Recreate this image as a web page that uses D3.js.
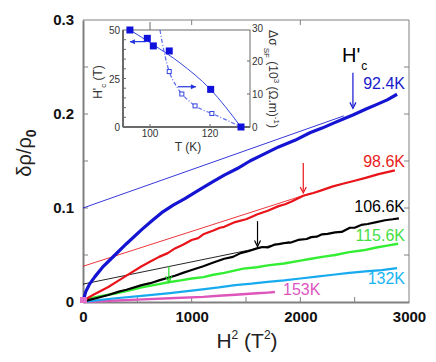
<!DOCTYPE html>
<html>
<head>
<meta charset="utf-8">
<script src="https://cdn.jsdelivr.net/npm/d3@7"></script>
<style>
body { margin: 0; background: #fff; }
text { font-family: "Liberation Sans", Arial, sans-serif; }
</style>
</head>
<body>
<div id="chart"></div>
<script>
var width = 436;
var height = 362;

// main curves: H^2 (T^2) and delta rho / rho0
var h2_924 = [0, 25, 60, 110, 180, 294, 400, 540, 640, 724, 830, 938, 1050, 1196, 1300, 1420, 1536, 1660, 1800, 1950, 2088, 2200, 2300, 2400, 2484, 2600, 2700, 2800, 2890];
var v_924  = [0, 0.011, 0.019, 0.027, 0.037, 0.050, 0.062, 0.077, 0.087, 0.095, 0.103, 0.110, 0.118, 0.128, 0.135, 0.142, 0.150, 0.157, 0.165, 0.172, 0.180, 0.185, 0.190, 0.195, 0.199, 0.205, 0.210, 0.215, 0.221];
var h2_986 = [0, 40, 100, 233, 330, 400, 540, 620, 700, 780, 846, 920, 1000, 1060, 1107, 1200, 1260, 1300, 1400, 1500, 1560, 1600, 1700, 1800, 1860, 1920, 2027, 2120, 2200, 2300, 2400, 2500, 2600, 2720, 2870];
var v_986  = [0, 0.004, 0.008, 0.016, 0.023, 0.028, 0.038, 0.043, 0.048, 0.052, 0.057, 0.061, 0.066, 0.068, 0.072, 0.076, 0.079, 0.080, 0.085, 0.088, 0.091, 0.093, 0.097, 0.102, 0.104, 0.107, 0.113, 0.116, 0.119, 0.123, 0.126, 0.129, 0.132, 0.136, 0.140];
var h2_1066 = [0, 50, 120, 233, 330, 400, 540, 620, 700, 846, 920, 1000, 1107, 1200, 1300, 1380, 1450, 1520, 1600, 1650, 1700, 1760, 1800, 1870, 1920, 1980, 2058, 2100, 2150, 2200, 2250, 2320, 2380, 2456, 2500, 2560, 2620, 2700, 2780, 2850, 2907];
var v_1066  = [0, 0.002, 0.004, 0.0075, 0.011, 0.013, 0.018, 0.020, 0.023, 0.028, 0.031, 0.034, 0.038, 0.042, 0.046, 0.048, 0.052, 0.054, 0.057, 0.0585, 0.058, 0.061, 0.0615, 0.063, 0.0635, 0.066, 0.067, 0.069, 0.0695, 0.072, 0.0725, 0.074, 0.0745, 0.079, 0.079, 0.082, 0.083, 0.085, 0.087, 0.088, 0.089];
var h2_1156 = [0, 30, 80, 150, 294, 400, 540, 700, 785, 900, 1000, 1107, 1200, 1300, 1475, 1600, 1700, 1850, 2000, 2100, 2200, 2320, 2450, 2580, 2700, 2800, 2900];
var v_1156  = [0, 0.002, 0.004, 0.006, 0.009, 0.0115, 0.0155, 0.019, 0.021, 0.023, 0.025, 0.0265, 0.029, 0.031, 0.0355, 0.037, 0.039, 0.041, 0.044, 0.046, 0.048, 0.050, 0.053, 0.055, 0.058, 0.060, 0.062];
var h2_132 = [0, 100, 300, 540, 800, 1100, 1250, 1400, 1550, 1700, 1850, 2000, 2150, 2300, 2450, 2600, 2750, 2890];
var v_132  = [0, 0.0015, 0.004, 0.0065, 0.0095, 0.0135, 0.0155, 0.018, 0.0195, 0.0215, 0.023, 0.025, 0.027, 0.029, 0.031, 0.0325, 0.034, 0.036];
var h2_153 = [0, 200, 500, 800, 1107, 1250, 1400, 1500, 1600, 1700, 1766];
var v_153  = [0, 0.001, 0.0025, 0.004, 0.0055, 0.0066, 0.0077, 0.0085, 0.0093, 0.0100, 0.0106];

// straight-line fits (start, end)
var fit_924  = [[0, 0.100], [2400, 0.198]];
var fit_986  = [[0, 0.038], [2100, 0.116]];
var fit_1066 = [[0, 0.019], [1900, 0.064]];

// H'c arrows: H^2, from, to
var arrows = [
  {h2: 2484, from: 0.244, to: 0.206, color: "#1414d2"},
  {h2: 2027, from: 0.148, to: 0.116, color: "#e8141a"},
  {h2: 1606, from: 0.086, to: 0.059, color: "#000000"},
  {h2: 790,  from: 0.038, to: 0.021, color: "#22dd22"}
];

var temps = ["92.4K", "98.6K", "106.6K", "115.6K", "132K", "153K"];
var colors = ["#1414d2", "#e8141a", "#000000", "#33ee33", "#18aaee", "#dd55bb"];
var textColors = ["#1a1acc", "#e81c1c", "#000000", "#44dd44", "#19b4f0", "#dd55c0"];

// inset data
var inset_T_Hc  = [93.3, 99.1, 101.1, 106.4, 120.2, 130.3];
var inset_Hc    = [50, 45.7, 41.8, 39.2, 19.4, 0];
var inset_T_sf  = [106.4, 110.6, 115, 120.6, 130.3];
var inset_sf    = [16.8, 10.0, 6.4, 4.1, 0];
var inset_fit_T  = [93.3, 101, 110, 120, 130.3];
var inset_fit_Hc = [50, 42.5, 33, 19.6, 0];
var inset_curve_T  = [103.3, 105, 106.4, 108.5, 110.6, 113, 115, 118, 120.6, 125, 130.3];
var inset_curve_sf = [29.4, 21.5, 16.8, 12.8, 10.0, 7.9, 6.4, 5.0, 4.1, 2.3, 0];

var svg = d3.select("#chart").append("svg")
  .attr("width", width)
  .attr("height", height);

var x = d3.scaleLinear().domain([0, 3000]).range([83, 409]);
var y = d3.scaleLinear().domain([0, 0.3]).range([302, 20]);
var axisColor = "#808080";

// frame
svg.append("line").attr("x1", 83).attr("x2", 409).attr("y1", 20).attr("y2", 20)
  .attr("stroke", axisColor).attr("stroke-width", 1);
svg.append("line").attr("x1", 409).attr("x2", 409).attr("y1", 20).attr("y2", 302)
  .attr("stroke", axisColor).attr("stroke-width", 1);

// bottom axis
var gx = svg.append("g").attr("transform", "translate(0,302)")
  .call(d3.axisBottom(x).tickValues([0, 1000, 2000, 3000]).tickSize(0).tickPadding(9).tickFormat(d3.format("d")));
gx.select(".domain").attr("stroke", axisColor).attr("stroke-width", 2);
gx.selectAll("text").attr("font-size", 15).attr("font-weight", "bold").attr("fill", "#111")
  .attr("font-family", "Liberation Sans, Arial, sans-serif");
svg.append("g").selectAll("line").data(d3.range(500, 3000, 500)).enter().append("line")
  .attr("x1", function(d) { return x(d); }).attr("x2", function(d) { return x(d); })
  .attr("y1", 302).attr("y2", 297).attr("stroke", axisColor);
svg.append("g").selectAll("line").data([1000, 2000]).enter().append("line")
  .attr("x1", function(d) { return x(d); }).attr("x2", function(d) { return x(d); })
  .attr("y1", 20).attr("y2", 25).attr("stroke", axisColor);

// left axis
var gy = svg.append("g").attr("transform", "translate(83,0)")
  .call(d3.axisLeft(y).tickValues([0, 0.1, 0.2, 0.3]).tickSize(0).tickPadding(9)
    .tickFormat(function(d) { return d === 0 ? "0" : d3.format(".1f")(d); }));
gy.select(".domain").attr("stroke", axisColor).attr("stroke-width", 2);
gy.selectAll("text").attr("font-size", 15).attr("font-weight", "bold").attr("fill", "#111")
  .attr("font-family", "Liberation Sans, Arial, sans-serif");
svg.append("g").selectAll("line").data([0.05, 0.1, 0.15, 0.2, 0.25]).enter().append("line")
  .attr("x1", 83).attr("x2", 88)
  .attr("y1", function(d) { return y(d); }).attr("y2", function(d) { return y(d); })
  .attr("stroke", axisColor);
svg.append("g").selectAll("line").data([0.05, 0.1, 0.15, 0.2, 0.25]).enter().append("line")
  .attr("x1", 409).attr("x2", 404)
  .attr("y1", function(d) { return y(d); }).attr("y2", function(d) { return y(d); })
  .attr("stroke", axisColor);

// axis titles
svg.append("text")
  .attr("transform", "translate(31,153) rotate(-90)")
  .attr("text-anchor", "middle").attr("font-size", 20).attr("fill", "#222")
  .text("δρ/ρ")
  .append("tspan").attr("font-size", 14).attr("dy", 5).attr("font-weight", "bold").text("0");

var xt = svg.append("text").attr("x", 247).attr("y", 348)
  .attr("text-anchor", "middle").attr("font-size", 21).attr("fill", "#222");
xt.append("tspan").text("H");
xt.append("tspan").attr("font-size", 12).attr("dy", -9).text("2");
xt.append("tspan").attr("dy", 9).text(" (T");
xt.append("tspan").attr("font-size", 12).attr("dy", -9).text("2");
xt.append("tspan").attr("dy", 9).text(")");

// curves
var series = [
  {h: h2_924, v: v_924, w: 3.2},
  {h: h2_986, v: v_986, w: 2.2},
  {h: h2_1066, v: v_1066, w: 2.2},
  {h: h2_1156, v: v_1156, w: 2.4},
  {h: h2_132, v: v_132, w: 2.2},
  {h: h2_153, v: v_153, w: 2.4}
];

var line = d3.line()
  .x(function(d) { return x(d[0]); })
  .y(function(d) { return y(d[1]); });

// fit lines
[fit_924, fit_986, fit_1066].forEach(function(f, i) {
  svg.append("path").attr("d", line(f)).attr("fill", "none")
    .attr("stroke", colors[i]).attr("stroke-width", 1).attr("opacity", 0.85);
});

series.slice().reverse().forEach(function(s, j) {
  var i = series.length - 1 - j;
  var pts = s.h.map(function(h, k) { return [h, s.v[k]]; });
  svg.append("path").attr("d", line(pts)).attr("fill", "none")
    .attr("stroke", colors[i]).attr("stroke-width", s.w).attr("stroke-linejoin", "round");
});

// pink blob at origin
svg.append("rect").attr("x", x(0) - 3).attr("y", y(0) - 5).attr("width", 7).attr("height", 6)
  .attr("fill", "#e070c8");

// arrows
arrows.forEach(function(a) {
  var ax = x(a.h2), y1 = y(a.from), y2 = y(a.to);
  svg.append("line").attr("x1", ax).attr("x2", ax).attr("y1", y1).attr("y2", y2 - 2)
    .attr("stroke", a.color).attr("stroke-width", 1.2);
  svg.append("path").attr("d", "M" + (ax - 3) + "," + (y2 - 6) + "L" + ax + "," + y2 + "L" + (ax + 3) + "," + (y2 - 6))
    .attr("fill", "none").attr("stroke", a.color).attr("stroke-width", 1.2);
});

// curve labels
var labelPos = [[405, 89, "end"], [405, 167, "end"], [405, 212, "end"], [405, 241, "end"], [405, 284, "end"], [283, 295, "start"]];
temps.forEach(function(t, i) {
  svg.append("text").attr("x", labelPos[i][0]).attr("y", labelPos[i][1])
    .attr("text-anchor", labelPos[i][2]).attr("font-size", 16)
    .attr("fill", textColors[i]).text(t);
});

// H'c label
var hc = svg.append("text").attr("x", 342).attr("y", 62).attr("font-size", 20).attr("fill", "#000");
hc.append("tspan").text("H'");
hc.append("tspan").attr("font-size", 12).attr("dy", 8).attr("dx", 1).text("c");

// ---------- inset ----------
var ix = d3.scaleLinear().domain([91, 133.3]).range([123, 250]);
var iyL = d3.scaleLinear().domain([0, 50]).range([127, 30]);
var iyR = d3.scaleLinear().domain([0, 30]).range([127, 28]);
var inset = svg.append("g");
var insetAxis = "#6a6a6a";

inset.append("rect").attr("x", 123).attr("y", 30).attr("width", 127).attr("height", 97)
  .attr("fill", "#fff").attr("stroke", insetAxis).attr("stroke-width", 1);
inset.append("line").attr("x1", 123).attr("x2", 123).attr("y1", 30).attr("y2", 127)
  .attr("stroke", insetAxis).attr("stroke-width", 2);
inset.append("line").attr("x1", 123).attr("x2", 250).attr("y1", 127).attr("y2", 127)
  .attr("stroke", insetAxis).attr("stroke-width", 2);

inset.append("g").selectAll("line").data(d3.range(5, 50, 5)).enter().append("line")
  .attr("x1", 123).attr("x2", 126)
  .attr("y1", function(d) { return iyL(d); }).attr("y2", function(d) { return iyL(d); })
  .attr("stroke", insetAxis);
inset.append("g").selectAll("text").data([0, 25, 50]).enter().append("text")
  .attr("x", 120).attr("y", function(d) { return iyL(d) + 4; })
  .attr("text-anchor", "end").attr("font-size", 10).attr("fill", "#333")
  .text(function(d) { return d; });
inset.append("g").selectAll("line").data([10, 20]).enter().append("line")
  .attr("x1", 250).attr("x2", 247)
  .attr("y1", function(d) { return iyR(d); }).attr("y2", function(d) { return iyR(d); })
  .attr("stroke", insetAxis);
inset.append("g").selectAll("text").data([0, 10, 20, 30]).enter().append("text")
  .attr("x", 252).attr("y", function(d) { return iyR(d) + 4; })
  .attr("font-size", 10).attr("fill", "#333")
  .text(function(d) { return d; });
inset.append("g").selectAll("line").data([100, 120]).enter().append("line")
  .attr("x1", function(d) { return ix(d); }).attr("x2", function(d) { return ix(d); })
  .attr("y1", 127).attr("y2", 124).attr("stroke", insetAxis);
inset.append("line").attr("x1", ix(100)).attr("x2", ix(100)).attr("y1", 30).attr("y2", 22)
  .attr("stroke", insetAxis);
inset.append("g").selectAll("text").data([100, 120]).enter().append("text")
  .attr("x", function(d) { return ix(d); }).attr("y", 137)
  .attr("text-anchor", "middle").attr("font-size", 10).attr("fill", "#333")
  .text(function(d) { return d; });

inset.append("text").attr("x", 188).attr("y", 151).attr("text-anchor", "middle")
  .attr("font-size", 12).attr("fill", "#333").text("T (K)");
var lt = inset.append("text").attr("transform", "translate(102,82) rotate(-90)")
  .attr("text-anchor", "middle").attr("font-size", 12).attr("fill", "#333");
lt.append("tspan").text("H'");
lt.append("tspan").attr("font-size", 8).attr("dy", 4).text("c");
lt.append("tspan").attr("dy", -4).text(" (T)");
var rt = inset.append("text").attr("transform", "translate(269,79) rotate(90)")
  .attr("text-anchor", "middle").attr("font-size", 12).attr("fill", "#333");
rt.append("tspan").text("Δσ");
rt.append("tspan").attr("font-size", 8).attr("dy", 5).text(" SF");
rt.append("tspan").attr("dy", -5).text(" (10");
rt.append("tspan").attr("font-size", 8).attr("dy", -5).text("3");
rt.append("tspan").attr("dy", 5).text(" (Ω.m)");
rt.append("tspan").attr("font-size", 8).attr("dy", -5).text("-1");
rt.append("tspan").attr("dy", 5).text(")");

// inset lines
var lineL = d3.line().x(function(d) { return ix(d[0]); }).y(function(d) { return iyL(d[1]); }).curve(d3.curveMonotoneX);
var lineR = d3.line().x(function(d) { return ix(d[0]); }).y(function(d) { return iyR(d[1]); }).curve(d3.curveMonotoneX);
inset.append("path").attr("d", lineL(inset_fit_T.map(function(t, k) { return [t, inset_fit_Hc[k]]; })))
  .attr("fill", "none").attr("stroke", "#3345dd").attr("stroke-width", 1);
inset.append("path").attr("d", lineR(inset_curve_T.map(function(t, k) { return [t, inset_curve_sf[k]]; })))
  .attr("fill", "none").attr("stroke", "#5a6aee").attr("stroke-width", 1.2).attr("stroke-dasharray", "4,2,1,2");

inset.append("g").selectAll("rect").data(inset_T_sf).enter().append("rect")
  .attr("x", function(d) { return ix(d) - 2; })
  .attr("y", function(d, k) { return iyR(inset_sf[k]) - 2; })
  .attr("width", 4).attr("height", 4).attr("fill", "#fff").attr("stroke", "#3344dd").attr("stroke-width", 1);
inset.append("g").selectAll("rect").data(inset_T_Hc).enter().append("rect")
  .attr("x", function(d) { return ix(d) - 3.5; })
  .attr("y", function(d, k) { return iyL(inset_Hc[k]) - 3.5; })
  .attr("width", 7).attr("height", 7).attr("fill", "#1010dd");

// inset arrows
function insetArrow(x1, x2, yy) {
  var dir = x2 > x1 ? 1 : -1;
  inset.append("line").attr("x1", x1).attr("x2", x2).attr("y1", yy).attr("y2", yy)
    .attr("stroke", "#2233dd").attr("stroke-width", 1.2);
  inset.append("path").attr("d", "M" + (x2 - dir * 5) + "," + (yy - 2.5) + "L" + x2 + "," + yy + "L" + (x2 - dir * 5) + "," + (yy + 2.5) + "Z")
    .attr("fill", "#2233dd");
}
insetArrow(ix(98.7), ix(93.3), iyL(44));
insetArrow(ix(109.3), ix(115.3), iyR(12.2));
</script>
</body>
</html>
